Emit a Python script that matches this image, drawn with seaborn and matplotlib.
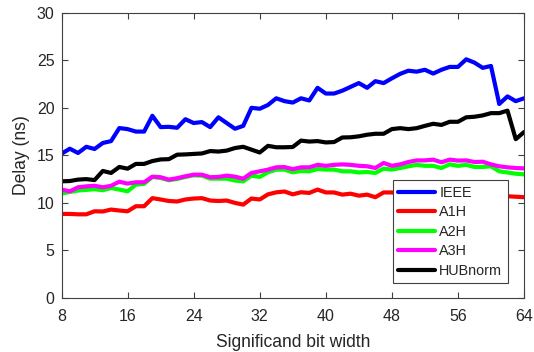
import numpy as np
import pandas as pd
import matplotlib
matplotlib.use("Agg")
import matplotlib.pyplot as plt
import seaborn as sns

bits = list(range(8, 65))

ieee = [15.17, 15.7, 15.25, 15.9, 15.67, 16.3, 16.5, 17.87, 17.76, 17.5,
        17.5, 19.16, 17.97, 18.0, 17.9, 18.8, 18.4, 18.5, 17.97, 19.0,
        18.4, 17.8, 18.1, 20.0, 19.9, 20.3, 21.0, 20.7, 20.55, 21.0,
        20.77, 22.1, 21.5, 21.5, 21.8, 22.2, 22.6, 22.1, 22.8, 22.6,
        23.1, 23.57, 23.9, 23.8, 24.0, 23.6, 24.0, 24.3, 24.3, 25.1,
        24.75, 24.2, 24.4, 20.4, 21.2, 20.7, 21.0]

a1h = [8.84, 8.84, 8.8, 8.8, 9.12, 9.1, 9.3, 9.2, 9.12, 9.65,
       9.65, 10.5, 10.36, 10.2, 10.15, 10.36, 10.46, 10.5, 10.25, 10.2,
       10.25, 10.0, 9.82, 10.46, 10.36, 10.9, 11.11, 11.2, 10.9, 11.12,
       11.05, 11.4, 11.1, 11.1, 10.87, 10.97, 10.76, 10.87, 10.6, 11.1,
       11.1, 11.0, 11.15, 11.1, 11.0, 10.95, 11.0, 10.9, 10.9, 10.85,
       10.8, 10.8, 10.75, 10.7, 10.7, 10.65, 10.6]

a2h = [10.98, 11.15, 11.3, 11.37, 11.44, 11.33, 11.57, 11.4, 11.22, 11.92,
       12.0, 12.73, 12.62, 12.38, 12.52, 12.73, 12.9, 12.87, 12.55, 12.55,
       12.55, 12.35, 12.27, 12.87, 12.73, 13.22, 13.5, 13.5, 13.22, 13.35,
       13.32, 13.56, 13.5, 13.5, 13.32, 13.32, 13.2, 13.25, 13.15, 13.6,
       13.5, 13.67, 13.85, 14.0, 13.9, 13.9, 13.67, 14.05, 13.9, 14.0,
       13.78, 13.78, 13.85, 13.32, 13.2, 13.07, 13.0]

a3h = [11.4, 11.22, 11.64, 11.74, 11.8, 11.64, 11.8, 12.23, 12.03, 12.17,
       12.17, 12.76, 12.7, 12.45, 12.6, 12.8, 12.97, 12.97, 12.7, 12.73,
       12.87, 12.76, 12.55, 13.15, 13.32, 13.5, 13.74, 13.77, 13.55, 13.74,
       13.74, 14.0, 13.9, 14.0, 14.05, 14.0, 13.9, 13.85, 13.67, 14.2,
       13.9, 14.05, 14.3, 14.47, 14.47, 14.55, 14.27, 14.55, 14.45, 14.47,
       14.3, 14.33, 14.05, 13.85, 13.74, 13.67, 13.63]

hubnorm = [12.27, 12.3, 12.45, 12.5, 12.4, 13.36, 13.15, 13.78, 13.6, 14.1,
           14.1, 14.4, 14.57, 14.6, 15.07, 15.1, 15.15, 15.2, 15.45, 15.4,
           15.5, 15.77, 15.9, 15.6, 15.3, 16.0, 15.85, 15.85, 15.88, 16.55,
           16.45, 16.5, 16.36, 16.4, 16.88, 16.9, 17.0, 17.17, 17.27, 17.27,
           17.76, 17.86, 17.76, 17.86, 18.1, 18.32, 18.2, 18.53, 18.53, 19.0,
           19.06, 19.2, 19.44, 19.44, 19.7, 16.7, 17.45]

series_names = ["IEEE", "A1H", "A2H", "A3H", "HUBnorm"]
series_vals = [ieee, a1h, a2h, a3h, hubnorm]
colors = ["#0000ff", "#ff0000", "#00ff00", "#ff00ff", "#000000"]
xticks = [8, 16, 24, 32, 40, 48, 56, 64]
yticks = [0, 5, 10, 15, 20, 25, 30]

df = pd.concat([pd.DataFrame({"bits": bits, "delay": v, "series": n})
                for n, v in zip(series_names, series_vals)], ignore_index=True)

sns.set_style("white")
plt.rcParams["font.family"] = ["Liberation Sans", "DejaVu Sans"]

fig = plt.figure(figsize=(5.34, 3.52), dpi=100)
ax = fig.add_axes([0.1152, 0.1534, 0.8661, 0.8105])

sns.lineplot(data=df, x="bits", y="delay", hue="series", hue_order=series_names,
             palette=dict(zip(series_names, colors)), linewidth=3, ax=ax,
             estimator=None, sort=False)

ax.set_xlim(8, 64)
ax.set_ylim(0, 30)
ax.set_xticks(xticks)
ax.set_yticks(yticks)
ax.set_xlabel("Significand bit width", fontsize=12.65, color="#262626", labelpad=7)
ax.set_ylabel("Delay (ns)", fontsize=12.65, color="#262626", labelpad=5)
ax.tick_params(direction="in", length=4, width=0.8, colors="#404040",
               labelcolor="#262626", labelsize=11.5, top=True, right=True,
               bottom=True, left=True)
ax.tick_params(axis="x", pad=8)
ax.tick_params(axis="y", pad=5)
for s in ax.spines.values():
    s.set_visible(True)
    s.set_color("#404040")
    s.set_linewidth(0.8)

leg = ax.legend(loc="lower right", bbox_to_anchor=(0.9654, 0.0515),
                borderaxespad=0, fontsize=10.35, frameon=True, fancybox=False,
                edgecolor="#404040", framealpha=1, handlelength=2.57,
                labelspacing=0.38, handletextpad=0.28, borderpad=0.4)
leg.get_frame().set_linewidth(0.8)
for line in leg.get_lines():
    line.set_linewidth(3)

fig.savefig("out.png", dpi=100)
